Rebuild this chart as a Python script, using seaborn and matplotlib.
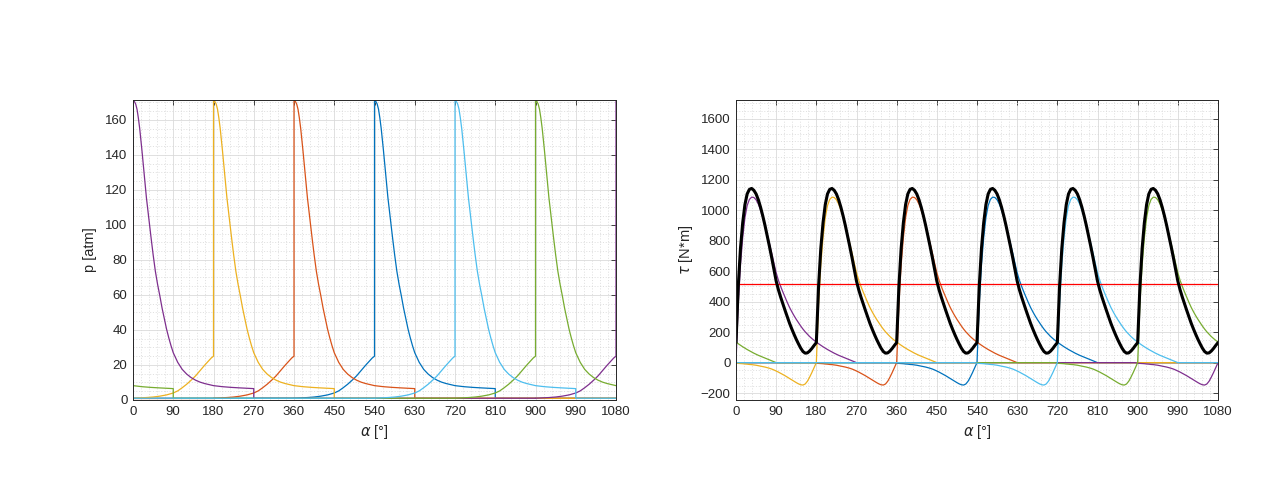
import numpy as np
import pandas as pd
import matplotlib
matplotlib.use("Agg")
import matplotlib.pyplot as plt
import seaborn as sns
from matplotlib.ticker import MultipleLocator

# ---------------- data ----------------
cyl_names = ["cyl1", "cyl2", "cyl3", "cyl4", "cyl5", "cyl6"]
cyl_colors = ["#0072BD", "#D95319", "#EDB120", "#7E2F8E", "#77AC30", "#4DBEEE"]
firing_angles = [540, 360, 180, 0, 900, 720]      # deg, TDC firing of each cylinder
cycle_len = 1080

# pressure of one cylinder vs angle relative to its firing TDC [atm]
p_comp_angle = [-180, -165, -150, -135, -120, -105, -90, -80, -70, -60, -50, -40, -30, -20, -10, -5, 0]
p_comp_value = [1.0, 1.2, 1.4, 1.7, 2.2, 2.9, 4.0, 5.2, 7.0, 9.0, 11.3, 13.8, 16.8, 19.8, 22.6, 24.0, 25.0]
p_exp_angle = [0, 3, 6, 9, 12, 15, 20, 25, 30, 35, 40, 45, 50, 55, 60, 65, 70, 75, 80, 85, 90,
               100, 110, 120, 130, 140, 150, 160, 180, 200, 220, 240, 270]
p_exp_value = [171.0, 170.5, 169, 166, 161, 155, 142.5, 129, 115.5, 104.5, 93.5, 83, 73.5, 66,
               59.5, 52.5, 46.5, 40.5, 35.5, 31, 27,
               21.5, 17.5, 14.8, 12.8, 11.3, 10.2, 9.4, 8.2, 7.6, 7.2, 6.9, 6.5]
p_exhaust_angle = [270, 900]
p_exhaust_value = [1.0, 1.0]

# torque of one cylinder, relative angle -180..895 in 5 deg steps [N*m]
tq_step = 5
tq_comp = [-4, -5, -6, -7, -9, -10, -12, -13, -15, -17, -20, -23, -26, -29, -33, -37,
           -42, -48, -55, -62, -70, -78, -86, -95, -104, -113, -122, -131, -139, -145,
           -147, -140, -122, -95, -65, -33]                      # -180 .. -5
tq_exp = [0, 380, 640, 820, 950, 1030, 1070, 1085, 1083, 1068, 1040, 1000, 952, 898,
          840, 780, 718, 652, 590, 540, 500, 463, 428, 394, 362, 334, 308, 284, 262,
          240, 220, 202, 186, 171, 158, 146, 135, 124, 114, 104, 95, 86, 78, 70, 62,
          55, 48, 42, 36, 30, 24, 18, 12, 6, 0]                  # 0 .. 270
tq_idle = [0] * 125                                              # 275 .. 895
mean_torque = 518

p_xticks = [0, 90, 180, 270, 360, 450, 540, 630, 720, 810, 900, 990, 1080]

# ---------------- build series ----------------
p_rel_angle = p_comp_angle + p_exp_angle + p_exhaust_angle
p_rel_value = p_comp_value + p_exp_value + p_exhaust_value

tq_profile = np.array(tq_comp + tq_exp + tq_idle, dtype=float)   # index 0 -> rel -180
abs_grid = np.arange(0, cycle_len + tq_step, tq_step)

cyl_tq = []
for f in firing_angles:
    shift = ((f - 180) % cycle_len) // tq_step
    arr = np.roll(tq_profile, shift)
    cyl_tq.append(np.append(arr, arr[0]))
total_tq = np.sum(cyl_tq, axis=0)

# ---------------- style ----------------
sns.set_theme(style="white")
plt.rcParams["font.family"] = ["Liberation Sans", "DejaVu Sans"]
plt.rcParams["mathtext.fontset"] = "dejavusans"
txt = "#262626"

fig = plt.figure(figsize=(12.8, 4.8), dpi=100)
ax1 = fig.add_axes([133 / 1280, 80 / 480, 483 / 1280, 300 / 480])
ax2 = fig.add_axes([736 / 1280, 80 / 480, 482 / 1280, 300 / 480])


def style_axes(ax, ymin, ymax, ymajor, yminor):
    ax.set_xlim(0, cycle_len)
    ax.set_ylim(ymin, ymax)
    ax.set_xticks(p_xticks)
    ax.xaxis.set_minor_locator(MultipleLocator(18))
    ax.yaxis.set_major_locator(MultipleLocator(ymajor))
    ax.yaxis.set_minor_locator(MultipleLocator(yminor))
    ax.grid(which="major", color="#dadada", linewidth=0.6, linestyle="-")
    ax.grid(which="minor", color="#d4d4d4", linewidth=0.5, linestyle=(0, (1.5, 2.5)))
    ax.set_axisbelow(True)
    ax.tick_params(which="major", direction="in", length=3.5, width=0.6, colors=txt,
                   labelsize=9.5, top=True, right=True, pad=4)
    ax.tick_params(which="minor", length=0, top=True, right=True)
    for s in ax.spines.values():
        s.set_color(txt)
        s.set_linewidth(0.7)
    ax.set_facecolor("white")


# ---------------- left: pressure ----------------
for name, f, col in zip(cyl_names, firing_angles, cyl_colors):
    for k in (-1, 0, 1):
        xs = [a + f + k * cycle_len for a in p_rel_angle]
        if max(xs) < 0 or min(xs) > cycle_len:
            continue
        df = pd.DataFrame({"x": xs, "y": p_rel_value})
        sns.lineplot(data=df, x="x", y="y", ax=ax1, color=col, linewidth=0.9,
                     sort=False, estimator=None)
style_axes(ax1, 0, 171.3, 20, 5)
ax1.set_xlabel(r"$\alpha$ [°]", fontsize=10.5, color=txt, labelpad=4)
ax1.set_ylabel("p [atm]", fontsize=10.5, color=txt, labelpad=6)

# ---------------- right: torque ----------------
for name, arr, col in zip(cyl_names, cyl_tq, cyl_colors):
    df = pd.DataFrame({"x": abs_grid, "y": arr})
    sns.lineplot(data=df, x="x", y="y", ax=ax2, color=col, linewidth=0.9,
                 sort=False, estimator=None)
df_mean = pd.DataFrame({"x": [0, cycle_len], "y": [mean_torque, mean_torque]})
sns.lineplot(data=df_mean, x="x", y="y", ax=ax2, color="#FF0000", linewidth=0.9)
df_tot = pd.DataFrame({"x": abs_grid, "y": total_tq})
sns.lineplot(data=df_tot, x="x", y="y", ax=ax2, color="black", linewidth=2.2,
             sort=False, estimator=None)
style_axes(ax2, -245, 1722, 200, 50)
ax2.set_xlabel(r"$\alpha$ [°]", fontsize=10.5, color=txt, labelpad=4)
ax2.set_ylabel(r"$\tau$ [N*m]", fontsize=10.5, color=txt, labelpad=4)

fig.savefig("out.png", dpi=100, facecolor="white")
